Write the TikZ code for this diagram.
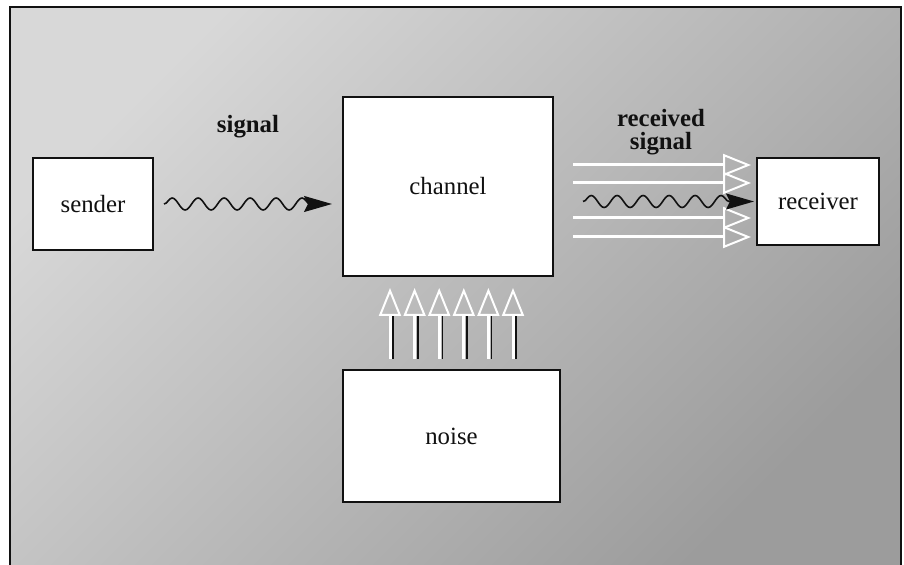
\documentclass[tikz,border=0pt]{standalone}
\usepackage{fontspec}
\setmainfont{Liberation Serif}
\usetikzlibrary{positioning, arrows.meta, calc, decorations.pathmorphing}
\definecolor{bgLight}{HTML}{D8D8D8}
\definecolor{bgDark}{HTML}{9C9C9C}
\definecolor{boxFill}{HTML}{FFFFFF}
\definecolor{lineMain}{HTML}{111111}
\tikzset{
  block/.style={
    draw=lineMain, fill=boxFill, line width=1pt, inner sep=0pt,
    font=\fontsize{12.4}{14}\selectfont, text=lineMain,
  },
  tag/.style={
    font=\fontsize{12.4}{11.5}\selectfont\bfseries, text=lineMain, align=center,
  },
  wavy/.style={
    decorate, decoration={snake, amplitude=3pt, segment length=13pt, post length=10pt},
    draw=lineMain, line width=0.8pt, -{Stealth[length=14pt, width=8pt, inset=2pt]},
  },
  hollow/.style={
    draw=white, line width=1.5pt, -{Triangle[open, length=14pt, width=11pt, line width=1pt]},
  },
  shadowline/.style={draw=lineMain, line width=0.8pt},
}

\begin{document}
\begin{tikzpicture}[x=0.5pt, y=-0.5pt]

  % === Page and background ===
  \useasboundingbox (0,0) rectangle (904,565);
  \shade[top color=bgLight, bottom color=bgDark, shading angle=45] (10,7) rectangle (901,565);
  \draw[lineMain, line width=1pt] (10,565) -- (10,7) -- (901,7) -- (901,565);

  % === Boxes ===
  \node[block, minimum width=105pt, minimum height=89.5pt] (channel) at (448,186.5) {channel};
  \node[block, minimum width=60pt, minimum height=46pt, left=94pt of channel, yshift=-8.75pt] (sender) {sender};
  \node[block, minimum width=61pt, minimum height=43.5pt, right=101pt of channel, yshift=-7.5pt] (receiver) {receiver};
  \node[block, minimum width=108.5pt, minimum height=66pt, below=46pt of channel, xshift=1.75pt] (noise) {noise};

  % === Labels ===
  \node[tag] (sigtag) at (248,127) {signal};
  \node[tag] (rsigtag) at (661,132) {received\\signal};

  % === Signal: sender to channel ===
  \draw[wavy] ($(sender.east)+(5pt,0)$) -- ($(sender.east -| channel.west)+(-5pt,0)$);

  % === Received signal with noise: channel to receiver ===
  \foreach \dy in {18.25, 9.25, -8.25, -17.75}
    \draw[hollow] ([xshift=9.5pt, yshift=\dy pt]channel.east |- receiver.west) -- ([xshift=-2.5pt, yshift=\dy pt]receiver.west);
  \draw[wavy] ([xshift=14.5pt]channel.east |- receiver.west) -- ([xshift=-1pt]receiver.west);

  % === Noise into channel ===
  \foreach \dx in {-30.75, -18.45, -6.15, 6.15, 18.45, 30.75} {
    \draw[shadowline] ([xshift={\dx pt+1.6pt}, yshift=5pt]noise.north) -- ([xshift={\dx pt+1.6pt}, yshift=-18.5pt]noise.north |- channel.south);
    \draw[hollow] ([xshift=\dx pt, yshift=5pt]noise.north) -- ([xshift=\dx pt, yshift=-5.5pt]noise.north |- channel.south);
  }

\end{tikzpicture}
\end{document}
